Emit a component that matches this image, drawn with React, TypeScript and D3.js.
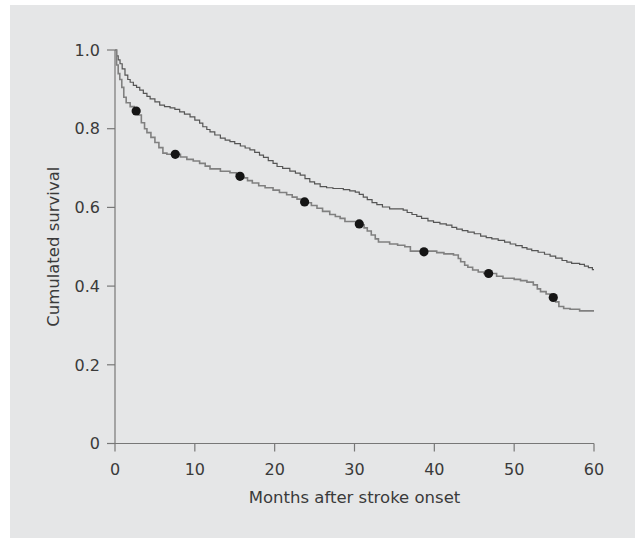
import React from "react";
import * as d3 from "d3";

// Kaplan-Meier step data: [months, survival]
const upperTimes = [0,0.2,0.4,0.63,0.9,1.25,1.6,1.9,2.3,2.7,3.1,3.55,4.0,4.4,5.0,5.6,6.2,6.9,7.5,8.1,8.7,9.4,10.0,10.6,11.0,11.5,11.9,12.5,13.2,13.8,14.4,15.0,15.7,16.3,16.9,17.5,18.1,18.6,19.2,19.8,20.3,21.0,21.9,22.6,23.2,23.8,24.4,25.0,25.7,26.5,27.3,28.6,29.4,30.1,30.6,31.1,31.6,32.2,32.8,33.5,34.4,36.1,36.6,37.2,37.8,38.4,39.2,39.9,40.7,41.5,42.2,42.8,43.5,44.2,45.0,45.8,46.5,47.2,48.0,48.8,49.5,50.2,51.0,51.6,52.2,53.0,53.8,54.5,55.2,56.0,56.6,57.2,58.2,58.8,59.3,59.8,60.0];
const upperValues = [1.0,0.985,0.975,0.965,0.952,0.936,0.925,0.918,0.91,0.905,0.898,0.89,0.882,0.876,0.868,0.86,0.856,0.853,0.849,0.843,0.837,0.83,0.822,0.814,0.805,0.798,0.792,0.784,0.776,0.771,0.767,0.762,0.756,0.751,0.746,0.74,0.733,0.727,0.719,0.712,0.704,0.699,0.692,0.687,0.682,0.673,0.665,0.66,0.653,0.65,0.648,0.645,0.642,0.639,0.633,0.626,0.62,0.612,0.607,0.601,0.596,0.593,0.587,0.582,0.577,0.572,0.566,0.562,0.558,0.555,0.549,0.545,0.541,0.537,0.533,0.527,0.523,0.52,0.516,0.512,0.507,0.503,0.498,0.494,0.49,0.486,0.481,0.476,0.471,0.465,0.461,0.458,0.455,0.451,0.447,0.442,0.442];

const lowerTimes = [0,0.2,0.4,0.6,0.85,1.1,1.4,1.9,2.4,2.9,3.3,3.7,4.0,4.5,5.0,5.5,6.0,6.5,8.2,9.0,9.8,10.6,11.3,11.9,13.2,14.4,15.2,16.0,16.6,17.2,18.0,18.8,19.8,20.6,21.5,22.2,22.8,24.0,24.6,25.3,26.0,26.9,27.6,28.2,28.8,30.8,31.2,31.6,32.1,32.6,33.0,34.4,35.4,36.3,37.0,40.3,41.2,42.4,43.0,43.3,43.8,44.2,44.8,45.5,46.2,47.8,48.6,50.0,50.8,51.6,52.4,52.9,53.3,54.0,54.6,55.2,55.6,56.2,57.0,58.2,60.0];
const lowerValues = [1.0,0.962,0.94,0.925,0.905,0.88,0.866,0.856,0.848,0.835,0.815,0.8,0.79,0.778,0.765,0.752,0.738,0.735,0.728,0.722,0.718,0.712,0.705,0.698,0.692,0.688,0.683,0.675,0.668,0.662,0.655,0.65,0.644,0.638,0.632,0.626,0.621,0.612,0.605,0.598,0.59,0.582,0.577,0.572,0.564,0.556,0.548,0.54,0.53,0.52,0.512,0.507,0.504,0.5,0.489,0.485,0.482,0.479,0.47,0.462,0.453,0.448,0.441,0.436,0.432,0.425,0.42,0.417,0.414,0.41,0.403,0.393,0.386,0.38,0.374,0.36,0.348,0.343,0.341,0.337,0.337];

const dotTimes = [2.65, 7.55, 15.66, 23.75, 30.6, 38.7, 46.8, 54.9];
const dotValues = [0.845, 0.735, 0.679, 0.614, 0.558, 0.487, 0.432, 0.371];

const xTicks = [0, 10, 20, 30, 40, 50, 60];
const yTicks = [0, 0.2, 0.4, 0.6, 0.8, 1.0];
const yTickLabels = ["0", "0.2", "0.4", "0.6", "0.8", "1.0"];

const W = 635;
const H = 538;
const FONT = "'DejaVu Sans', sans-serif";
const TEXT = "#3a3a3a";
const AXIS = "#777";

export default function App() {
  const x = d3.scaleLinear().domain([0, 60]).range([115, 594]);
  const y = d3.scaleLinear().domain([0, 1]).range([443.5, 50]);

  const line = d3
    .line<[number, number]>()
    .x((d) => x(d[0]))
    .y((d) => y(d[1]))
    .curve(d3.curveStepAfter);

  const upper: [number, number][] = upperTimes.map((t, i) => [t, upperValues[i]]);
  const lower: [number, number][] = lowerTimes.map((t, i) => [t, lowerValues[i]]);

  return (
    <svg
      width={W}
      height={H}
      style={{ position: "absolute", left: 0, top: 0, background: "#fff" }}
    >
      <rect x={10} y={5} width={W - 10} height={H - 5} fill="#e5e6e7" />

      {/* axes */}
      <line x1={x(0)} x2={x(0)} y1={y(1)} y2={y(0)} stroke={AXIS} strokeWidth={1.2} />
      <line x1={x(0)} x2={x(60)} y1={y(0)} y2={y(0)} stroke={AXIS} strokeWidth={1.2} />
      {yTicks.map((t, i) => (
        <g key={"y" + i}>
          <line x1={x(0) - 8} x2={x(0)} y1={y(t)} y2={y(t)} stroke={AXIS} strokeWidth={1.2} />
          <text
            x={x(0) - 15}
            y={y(t)}
            dy="0.36em"
            textAnchor="end"
            fontFamily={FONT}
            fontSize={16}
            fill={TEXT}
          >
            {yTickLabels[i]}
          </text>
        </g>
      ))}
      {xTicks.map((t, i) => (
        <g key={"x" + i}>
          <line x1={x(t)} x2={x(t)} y1={y(0)} y2={y(0) + 8} stroke={AXIS} strokeWidth={1.2} />
          <text
            x={x(t)}
            y={475}
            textAnchor="middle"
            fontFamily={FONT}
            fontSize={16}
            fill={TEXT}
          >
            {t}
          </text>
        </g>
      ))}

      <text
        x={(x(0) + x(60)) / 2}
        y={503}
        textAnchor="middle"
        fontFamily={FONT}
        fontSize={16.5}
        fill={TEXT}
      >
        Months after stroke onset
      </text>
      <text
        transform={`translate(59, ${(y(0) + y(1)) / 2}) rotate(-90)`}
        textAnchor="middle"
        fontFamily={FONT}
        fontSize={16.5}
        fill={TEXT}
      >
        Cumulated survival
      </text>

      {/* curves */}
      <path d={line(upper) || ""} fill="none" stroke="#555" strokeWidth={1.2} />
      <path d={line(lower) || ""} fill="none" stroke="#808080" strokeWidth={1.6} />

      {dotTimes.map((t, i) => (
        <circle key={"d" + i} cx={x(t)} cy={y(dotValues[i])} r={4.6} fill="#151515" />
      ))}
    </svg>
  );
}
